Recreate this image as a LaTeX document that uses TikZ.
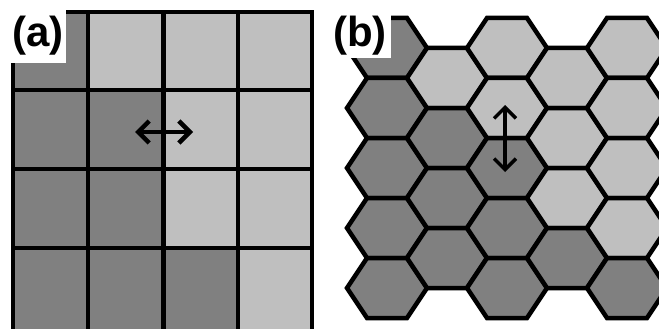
\documentclass[tikz,border=0pt]{standalone}
\usepackage{fontspec}
\setmainfont{Liberation Sans}
\usetikzlibrary{arrows.meta}
\definecolor{darkcell}{gray}{0.5}
\definecolor{lightcell}{gray}{0.75}
\tikzset{
  sqcell/.style={draw=black, line width=3.5pt},
  hexcell/.pic={\path[pic actions] (-40,0) -- (-20,-30) -- (20,-30) -- (40,0) -- (20,30) -- (-20,30) -- cycle;},
  panel label/.style={font=\fontsize{42}{50}\selectfont\bfseries, anchor=base, inner sep=0pt},
  swaparrow/.style={line width=4.5pt, {Straight Barb[length=11pt,width=22pt]}-{Straight Barb[length=11pt,width=22pt]}}
}
\begin{document}
\begin{tikzpicture}[x=1pt, y=-1pt]
\useasboundingbox (0,0) rectangle (659,329);
\clip (0,0) rectangle (659,329);
% (a) square lattice
\draw[sqcell, fill=darkcell]  (13,12) rectangle (88,90);
\draw[sqcell, fill=lightcell] (88,12) rectangle (163,90);
\draw[sqcell, fill=lightcell] (163,12) rectangle (238,90);
\draw[sqcell, fill=lightcell] (238,12) rectangle (312,90);
\draw[sqcell, fill=darkcell]  (13,90) rectangle (88,169);
\draw[sqcell, fill=darkcell]  (88,90) rectangle (163,169);
\draw[sqcell, fill=lightcell] (163,90) rectangle (238,169);
\draw[sqcell, fill=lightcell] (238,90) rectangle (312,169);
\draw[sqcell, fill=darkcell]  (13,169) rectangle (88,248);
\draw[sqcell, fill=darkcell]  (88,169) rectangle (163,248);
\draw[sqcell, fill=lightcell] (163,169) rectangle (238,248);
\draw[sqcell, fill=lightcell] (238,169) rectangle (312,248);
\draw[sqcell, fill=darkcell]  (13,248) rectangle (88,334);
\draw[sqcell, fill=darkcell]  (88,248) rectangle (163,334);
\draw[sqcell, fill=darkcell]  (163,248) rectangle (238,334);
\draw[sqcell, fill=lightcell] (238,248) rectangle (312,334);
\draw[line width=5pt] (163,12) -- (163,334);
\fill[white] (0,0) rectangle (66,63);
\node[panel label] (la) at (38,47) {(a)};
\coordinate (swapL) at (135,132);
\coordinate (swapR) at (193,132);
\draw[swaparrow] (swapL) -- (swapR);
% (b) hexagonal lattice
\pic[fill=darkcell, draw=black, line width=4.5pt] at (387,48) {hexcell};
\pic[fill=darkcell, draw=black, line width=4.5pt] at (387,108) {hexcell};
\pic[fill=darkcell, draw=black, line width=4.5pt] at (387,168) {hexcell};
\pic[fill=darkcell, draw=black, line width=4.5pt] at (387,228) {hexcell};
\pic[fill=darkcell, draw=black, line width=4.5pt] at (387,288) {hexcell};
\pic[fill=lightcell, draw=black, line width=4.5pt] at (447,78) {hexcell};
\pic[fill=darkcell, draw=black, line width=4.5pt] at (447,138) {hexcell};
\pic[fill=darkcell, draw=black, line width=4.5pt] at (447,198) {hexcell};
\pic[fill=darkcell, draw=black, line width=4.5pt] at (447,258) {hexcell};
\pic[fill=lightcell, draw=black, line width=4.5pt] at (507,48) {hexcell};
\pic[fill=lightcell, draw=black, line width=4.5pt] at (507,108) {hexcell};
\pic[fill=darkcell, draw=black, line width=4.5pt] at (507,168) {hexcell};
\pic[fill=darkcell, draw=black, line width=4.5pt] at (507,228) {hexcell};
\pic[fill=darkcell, draw=black, line width=4.5pt] at (507,288) {hexcell};
\pic[fill=lightcell, draw=black, line width=4.5pt] at (567,78) {hexcell};
\pic[fill=lightcell, draw=black, line width=4.5pt] at (567,138) {hexcell};
\pic[fill=lightcell, draw=black, line width=4.5pt] at (567,198) {hexcell};
\pic[fill=darkcell, draw=black, line width=4.5pt] at (567,258) {hexcell};
\pic[fill=lightcell, draw=black, line width=4.5pt] at (627,48) {hexcell};
\pic[fill=lightcell, draw=black, line width=4.5pt] at (627,108) {hexcell};
\pic[fill=lightcell, draw=black, line width=4.5pt] at (627,168) {hexcell};
\pic[fill=lightcell, draw=black, line width=4.5pt] at (627,228) {hexcell};
\pic[fill=darkcell, draw=black, line width=4.5pt] at (627,288) {hexcell};
\fill[white] (329,0) rectangle (391,58);
\node[panel label] (lb) at (360,47) {(b)};
\coordinate (hopT) at (505,105);
\coordinate (hopB) at (505,172);
\draw[swaparrow, line width=3.5pt] (hopT) -- (hopB);
\end{tikzpicture}
\end{document}
